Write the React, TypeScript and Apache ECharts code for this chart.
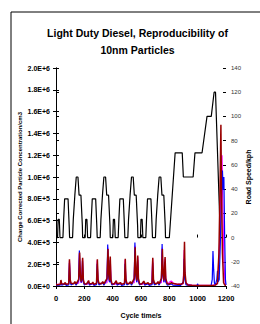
import React, { useEffect, useRef } from "react";
import * as echarts from "echarts";

const titleText = "Light Duty Diesel, Reproducibility of\n10nm Particles";
const leftAxisName = "Charge Corrected Particle Concentration/cm3";
const rightAxisName = "Road Speed/kph";
const xAxisName = "Cycle time/s";
const leftTickLabels = ["0.0E+0", "2.0E+5", "4.0E+5", "6.0E+5", "8.0E+5", "1.0E+6", "1.2E+6", "1.4E+6", "1.6E+6", "1.8E+6", "2.0E+6"];
const xTickLabels = ["0", "200", "400", "600", "800", "1000", "1200"];

// Road speed (NEDC), [time s, km/h]
const speedData: [number, number][] = [
  [0, 0], [11, 0], [15, 15], [23, 15], [25, 10], [28, 0], [49, 0], [54, 15], [56, 15], [61, 32], [85, 32], [93, 10], [96, 0], [117, 0], [122, 15], [124, 15], [133, 35], [135, 35], [143, 50], [155, 50], [163, 35], [176, 35], [186, 10], [188, 0],
  [206, 0], [210, 15], [218, 15], [220, 10], [223, 0], [244, 0], [249, 15], [251, 15], [256, 32], [280, 32], [288, 10], [291, 0], [312, 0], [317, 15], [319, 15], [328, 35], [330, 35], [338, 50], [350, 50], [358, 35], [371, 35], [381, 10], [383, 0],
  [401, 0], [405, 15], [413, 15], [415, 10], [418, 0], [439, 0], [444, 15], [446, 15], [451, 32], [475, 32], [483, 10], [486, 0], [507, 0], [512, 15], [514, 15], [523, 35], [525, 35], [533, 50], [545, 50], [553, 35], [566, 35], [576, 10], [578, 0],
  [596, 0], [600, 15], [608, 15], [610, 10], [613, 0], [634, 0], [639, 15], [641, 15], [646, 32], [670, 32], [678, 10], [681, 0], [702, 0], [707, 15], [709, 15], [718, 35], [720, 35], [728, 50], [740, 50], [748, 35], [761, 35], [771, 10], [773, 0],
  [800, 0], [841, 70], [891, 70], [899, 50], [968, 50], [981, 70], [1031, 70], [1066, 100], [1096, 100], [1116, 120], [1126, 120], [1160, 0], [1180, 0],
];

// Particle concentration runs, [time s, particles/cm3]
const magentaRun: [number, number][] = [
  [0, 15000], [30, 15000], [35, 45000], [40, 18000], [90, 18000], [95, 230000], [100, 50000], [106, 22000], [160, 25000], [165, 300000], [170, 90000], [178, 30000], [182, 40000], [187, 245000], [192, 50000],
  [200, 18000], [225, 18000], [230, 40000], [236, 18000], [286, 20000], [291, 235000], [296, 55000], [303, 22000], [360, 30000], [366, 350000], [371, 100000], [378, 35000], [383, 255000], [388, 55000],
  [395, 18000], [420, 18000], [425, 40000], [431, 18000], [483, 20000], [488, 240000], [493, 55000], [500, 22000], [552, 30000], [558, 370000], [563, 100000], [570, 35000], [577, 265000], [582, 55000],
  [590, 18000], [615, 18000], [620, 40000], [626, 18000], [677, 20000], [682, 250000], [687, 55000], [695, 22000], [744, 30000], [750, 350000], [755, 100000], [762, 35000], [770, 250000], [775, 55000],
  [790, 20000], [805, 40000], [815, 45000], [825, 30000], [840, 18000], [898, 20000], [905, 330000], [910, 90000], [918, 20000], [960, 6000], [1100, 5000], [1140, 20000], [1155, 400000], [1165, 1000000], [1172, 1200000], [1178, 700000], [1186, 200000], [1194, 20000], [1200, 8000],
];

const blueRun: [number, number][] = [
  [0, 5000], [30, 8000], [35, 35000], [40, 8000], [65, 20000], [72, 6000], [90, 10000], [95, 210000], [100, 40000], [106, 10000], [133, 30000], [142, 8000], [160, 50000], [165, 326000], [170, 90000], [178, 30000], [183, 60000], [187, 230000], [192, 40000],
  [200, 8000], [230, 35000], [236, 8000], [260, 25000], [268, 6000], [286, 12000], [291, 205000], [296, 40000], [303, 10000], [330, 30000], [338, 8000], [360, 60000], [365, 380000], [370, 100000], [378, 35000], [382, 235000], [387, 40000],
  [395, 8000], [425, 35000], [431, 8000], [455, 25000], [463, 6000], [484, 12000], [488, 205000], [493, 40000], [500, 10000], [525, 30000], [533, 8000], [552, 60000], [557, 400000], [562, 110000], [570, 35000], [576, 240000], [581, 45000],
  [590, 8000], [620, 35000], [626, 8000], [650, 22000], [658, 6000], [678, 12000], [682, 215000], [687, 40000], [695, 10000], [720, 30000], [728, 8000], [744, 60000], [749, 385000], [754, 100000], [762, 35000], [769, 220000], [774, 40000],
  [785, 8000], [815, 20000], [825, 8000], [880, 6000], [900, 40000], [905, 250000], [910, 60000], [918, 10000], [960, 3000], [995, 3000], [1000, 20000], [1004, 3000], [1095, 5000], [1103, 60000], [1108, 320000], [1113, 150000], [1118, 30000], [1125, 8000], [1135, 60000], [1140, 140000], [1145, 40000], [1152, 60000], [1160, 400000], [1168, 800000], [1175, 1060000], [1180, 880000], [1185, 1000000], [1190, 500000], [1196, 60000], [1200, 10000],
];

const redRun: [number, number][] = [
  [0, 12000], [10, 12000], [30, 15000], [35, 55000], [40, 20000], [58, 18000], [65, 32000], [72, 15000], [90, 20000], [95, 245000], [100, 60000], [106, 25000], [125, 20000], [133, 40000], [142, 20000], [160, 60000], [167, 308000], [172, 100000], [178, 40000], [183, 80000], [188, 260000], [193, 60000],
  [200, 20000], [215, 18000], [230, 50000], [236, 20000], [253, 22000], [260, 35000], [268, 15000], [286, 25000], [292, 246000], [297, 60000], [303, 25000], [320, 20000], [330, 40000], [338, 20000], [360, 70000], [367, 340000], [372, 110000], [378, 50000], [383, 270000], [388, 60000],
  [395, 20000], [410, 18000], [425, 48000], [431, 20000], [448, 25000], [455, 32000], [463, 15000], [484, 25000], [489, 250000], [494, 60000], [500, 25000], [515, 20000], [525, 40000], [533, 20000], [552, 70000], [559, 355000], [564, 110000], [570, 50000], [577, 280000], [582, 70000],
  [590, 20000], [605, 18000], [620, 45000], [626, 20000], [643, 25000], [650, 30000], [658, 15000], [678, 25000], [683, 260000], [688, 60000], [695, 25000], [710, 20000], [720, 40000], [728, 20000], [744, 70000], [751, 340000], [756, 110000], [762, 50000], [770, 265000], [775, 70000],
  [785, 20000], [800, 18000], [815, 30000], [825, 22000], [840, 20000], [860, 15000], [880, 15000], [897, 25000], [902, 100000], [907, 405000], [911, 120000], [918, 30000], [930, 10000], [960, 6000], [1000, 5000], [1050, 5000], [1100, 5000], [1125, 8000], [1140, 25000], [1150, 300000], [1158, 900000], [1164, 1480000], [1168, 900000], [1175, 300000], [1183, 30000], [1192, 8000], [1200, 5000],
];

const FONT = '"Liberation Sans", Arial, sans-serif';

export default function App() {
  const ref = useRef<HTMLDivElement>(null);
  useEffect(() => {
    if (!ref.current) return;
    const chart = echarts.init(ref.current, undefined, { renderer: "svg" });
    const axisLine = { show: true, lineStyle: { color: "#000", width: 1 } };
    chart.setOption({
      animation: false,
      backgroundColor: "#fff",
      grid: { left: 56, right: 22, top: 68, bottom: 37, containLabel: false },
      graphic: [
        { type: "rect", shape: { x: 11, y: 12, width: 300, height: 400 }, style: { fill: "none", stroke: "#000", lineWidth: 1 }, z: 0 },
        {
          type: "text", x: 137.5, y: 24,
          style: { text: titleText, align: "center", verticalAlign: "top", font: `bold 10.5px ${FONT}`, lineHeight: 17, fill: "#000" },
        },
      ],
      xAxis: [
        {
          type: "value", min: 0, max: 1200, interval: 200, position: "bottom",
          name: xAxisName, nameLocation: "middle", nameGap: 26, nameMoveOverlap: false,
          nameTextStyle: { fontFamily: FONT, fontWeight: "bold", fontSize: 7, color: "#000" },
          axisLine, axisTick: { show: true, inside: false, length: 3, lineStyle: { color: "#000" } },
          axisLabel: {
            fontFamily: FONT, fontWeight: "bold", fontSize: 7.5, color: "#000", margin: 8,
            formatter: (v: number) => xTickLabels[Math.round(v / 200)] ?? "",
          },
          splitLine: { show: false },
        },
        {
          type: "value", min: 0, max: 1200, interval: 200, position: "bottom",
          axisLine: { show: false }, axisTick: { show: true, inside: true, length: 3, lineStyle: { color: "#000" } },
          axisLabel: { show: false }, splitLine: { show: false },
        },
      ],
      yAxis: [
        {
          type: "value", min: 0, max: 2000000, interval: 200000, position: "left",
          name: leftAxisName, nameLocation: "middle", nameGap: 33, nameRotate: 90, nameMoveOverlap: false,
          nameTextStyle: { fontFamily: FONT, fontWeight: "bold", fontSize: 6, color: "#000" },
          axisLine, axisTick: { show: true, inside: false, length: 3, lineStyle: { color: "#000" } },
          axisLabel: {
            fontFamily: FONT, fontWeight: "bold", fontSize: 7, color: "#000", margin: 6,
            formatter: (v: number) => leftTickLabels[Math.round(v / 200000)] ?? "",
          },
          splitLine: { show: false },
        },
        {
          type: "value", min: -40, max: 140, interval: 20, position: "right",
          name: rightAxisName, nameLocation: "middle", nameGap: 19, nameRotate: 90, nameMoveOverlap: false,
          nameTextStyle: { fontFamily: FONT, fontWeight: "bold", fontSize: 7, color: "#000" },
          axisLine, axisTick: { show: true, inside: false, length: 3, lineStyle: { color: "#000" } },
          axisLabel: { fontFamily: FONT, fontSize: 6, color: "#333", margin: 5 },
          splitLine: { show: false },
        },
        {
          type: "value", min: 0, max: 2000000, interval: 200000, position: "left",
          axisLine: { show: false }, axisTick: { show: true, inside: true, length: 3, lineStyle: { color: "#000" } },
          axisLabel: { show: false }, splitLine: { show: false },
        },
        {
          type: "value", min: -40, max: 140, interval: 20, position: "right",
          axisLine: { show: false }, axisTick: { show: true, inside: true, length: 3, lineStyle: { color: "#000" } },
          axisLabel: { show: false }, splitLine: { show: false },
        },
      ],
      series: [
        { type: "line", name: "Speed", yAxisIndex: 1, data: speedData, showSymbol: false, lineStyle: { color: "#000", width: 1.2 }, itemStyle: { color: "#000" }, z: 2 },
        { type: "line", name: "Run 3", yAxisIndex: 0, data: magentaRun, showSymbol: false, lineStyle: { color: "#ff00ff", width: 1.2 }, itemStyle: { color: "#ff00ff" }, z: 3 },
        { type: "line", name: "Run 2", yAxisIndex: 0, data: blueRun, showSymbol: false, lineStyle: { color: "#0000ff", width: 1.2 }, itemStyle: { color: "#0000ff" }, z: 4 },
        { type: "line", name: "Run 1", yAxisIndex: 0, data: redRun, showSymbol: false, lineStyle: { color: "#990000", width: 1.5 }, itemStyle: { color: "#990000" }, z: 5 },
      ],
    });
    return () => chart.dispose();
  }, []);
  return <div ref={ref} style={{ position: "absolute", left: 0, top: 0, width: 260, height: 324 }} />;
}
